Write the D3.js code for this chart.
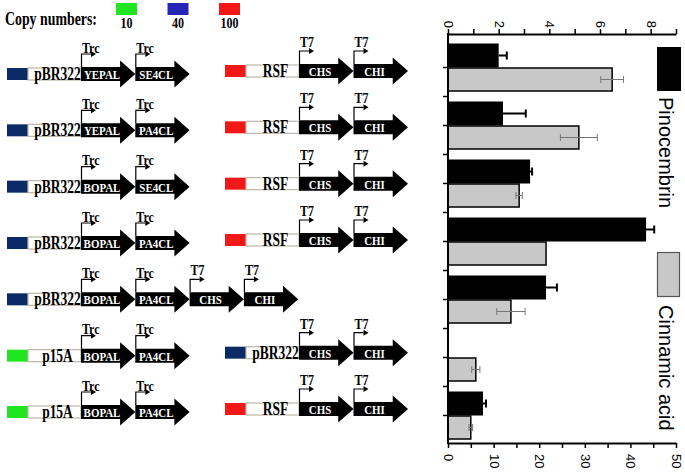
<!DOCTYPE html>
<html><head><meta charset="utf-8">
<script src="https://cdn.jsdelivr.net/npm/d3@7"></script>
<style>body{margin:0;background:#fff}svg{display:block}</style>
</head><body>
<svg id="c" width="685" height="472"></svg>
<script>
// ---------- DATA ----------
const constructs = ["c1","c2","c3","c4","c5","c6","c7"];
const leftOrigin  = ["pBR322","pBR322","pBR322","pBR322","pBR322","p15A","p15A"];
const leftGenes   = [["YEPAL","SE4CL"],["YEPAL","PA4CL"],["BOPAL","SE4CL"],["BOPAL","PA4CL"],["BOPAL","PA4CL","CHS","CHI"],["BOPAL","PA4CL"],["BOPAL","PA4CL"]];
const leftPromoters = [["Trc","Trc"],["Trc","Trc"],["Trc","Trc"],["Trc","Trc"],["Trc","Trc","T7","T7"],["Trc","Trc"],["Trc","Trc"]];
const rightOrigin = ["RSF","RSF","RSF","RSF",null,"pBR322","RSF"];
const rightGenes  = ["CHS","CHI"];
const rightPromoters = ["T7","T7"];
const copyOrigins = ["p15A","pBR322","RSF"];
const copyNumbers = ["10","40","100"];
const pinocembrin    = [2.0, 2.17, 3.24, 7.82, 3.87, 0, 1.38];
const pinocembrinErr = [0.32, 0.9, 0.08, 0.32, 0.43, 0, 0.12];
const cinnamic       = [36.0, 28.7, 15.6, 21.5, 13.8, 6.1, 5.0];
const cinnamicErr    = [2.5, 4.05, 0.7, 0, 3.1, 0.9, 0.4];
const topTicks = [0,1,2,3,4,5,6,7,8,9];
const bottomTicks = [0,5,10,15,20,25,30,35,40,45,50];
const seriesNames = ["Pinocembrin","Cinnamic acid"];

// ---------- STYLE ----------
const legendColor = {"p15A":"#22e522","pBR322":"#2626b6","RSF":"#f21818"};
const boxColor = {"p15A":"#22e522","pBR322":"#0b2b66","RSF":"#f21818"};
const serif = "'Liberation Serif','Times New Roman',serif";
const sans = "'Liberation Sans',Arial,sans-serif";
const svg = d3.select("#c");

// condensed serif text (horizontally scaled)
function ctext(g, x, y, str, size, ratio, anchor, fill){
  return g.append("text")
    .attr("transform",`translate(${x},${y}) scale(${ratio},1)`)
    .attr("text-anchor",anchor||"start")
    .attr("font-family",serif).attr("font-weight","bold").attr("font-size",size)
    .attr("fill",fill||"#000").text(str);
}

// ---------- COPY NUMBER LEGEND ----------
const gl = svg.append("g");
ctext(gl, 5, 25, "Copy numbers:", 18, 0.77);
const legX = d3.scalePoint().domain(copyOrigins).range([126.5,229.5]);
copyOrigins.forEach((o,i)=>{
  const cx = legX(o);
  gl.append("rect").attr("x",cx-10.5).attr("y",3).attr("width",21).attr("height",12).attr("fill",legendColor[o]);
  ctext(gl, cx, 28, copyNumbers[i], 15, 0.8, "middle");
});

// ---------- CONSTRUCT DIAGRAMS ----------
const rowY = d3.scaleLinear().domain([0,6]).range([74,412]);
const dg = svg.append("g");

function arrow(g, x, c, len, name, prom){
  const hb = len*0.72;
  g.append("path").attr("d",
    `M${x},${c-7}L${x+hb},${c-7}L${x+hb},${c-13.5}L${x+len},${c}L${x+hb},${c+13.5}L${x+hb},${c+7}L${x},${c+7}Z`)
    .attr("fill","#000");
  ctext(g, x+21, c+5, name, 13, 0.84, "middle", "#fff");
  // promoter
  g.append("path").attr("d",`M${x+0.5},${c-7}L${x+0.5},${c-20}L${x+10},${c-20}`)
    .attr("fill","none").attr("stroke","#000").attr("stroke-width",1.2);
  g.append("path").attr("d",`M${x+10},${c-23}L${x+15},${c-20}L${x+10},${c-17}Z`).attr("fill","#000");
  ctext(g, x+1, c-(prom==="T7"?24:21.5), prom, 15, 0.8, "start");
}

function plasmid(g, x0, c, origin, genes, proms, len){
  g.append("rect").attr("x",x0).attr("y",c-6).attr("width",21).attr("height",12).attr("fill",boxColor[origin]);
  g.append("rect").attr("x",x0+21).attr("y",c-6).attr("width",53).attr("height",12)
    .attr("fill","#fff").attr("stroke","#bdb6a6").attr("stroke-width",1.2);
  ctext(g, x0+21+26.5+3, c+6, origin, 18, 0.75, "middle");
  genes.forEach((gname,i)=> arrow(g, x0+74+i*len, c, len, gname, proms[i]));
}

constructs.forEach((id,i)=>{
  const c = rowY(i);
  plasmid(dg, 7, c, leftOrigin[i], leftGenes[i], leftPromoters[i], 54.3);
  if(rightOrigin[i]) plasmid(dg, 225, c-3, rightOrigin[i], rightGenes, rightPromoters, 54.5);
});

// ---------- BAR CHART ----------
const yBand = d3.scaleBand().domain(constructs).range([38.5,444.5]);
const xTop = d3.scaleLinear().domain([0,9]).range([448,676]);
const xBot = d3.scaleLinear().domain([0,50]).range([448,676]);
const barH = 24;
const bc = svg.append("g");
const center = d => yBand(d)+yBand.bandwidth()/2;

// bars
bc.selectAll(".pb").data(constructs).join("rect")
  .attr("x",xTop(0)).attr("y",d=>center(d)-barH)
  .attr("width",(d,i)=>xTop(pinocembrin[i])-xTop(0)).attr("height",barH).attr("fill","#000");
bc.selectAll(".cb").data(constructs).join("rect")
  .attr("x",xBot(0)).attr("y",d=>center(d)+0.5)
  .attr("width",(d,i)=>xBot(cinnamic[i])-xBot(0)).attr("height",barH-1)
  .attr("fill","#c8c8c8").attr("stroke","#000").attr("stroke-width",1.5);

// error bars
constructs.forEach((d,i)=>{
  if(pinocembrinErr[i]>0){
    const cy = center(d)-barH/2;
    const x1 = xTop(pinocembrin[i]), x2 = xTop(pinocembrin[i]+pinocembrinErr[i]);
    bc.append("line").attr("x1",x1).attr("x2",x2).attr("y1",cy).attr("y2",cy).attr("stroke","#000").attr("stroke-width",2);
    bc.append("line").attr("x1",x2).attr("x2",x2).attr("y1",cy-4).attr("y2",cy+4).attr("stroke","#000").attr("stroke-width",2);
  }
  if(cinnamicErr[i]>0){
    const cy = center(d)+barH/2;
    const x1 = xBot(cinnamic[i]-cinnamicErr[i]), x2 = xBot(cinnamic[i]+cinnamicErr[i]);
    bc.append("line").attr("x1",x1).attr("x2",x2).attr("y1",cy).attr("y2",cy).attr("stroke","#777").attr("stroke-width",1);
    [x1,x2].forEach(x=>bc.append("line").attr("x1",x).attr("x2",x).attr("y1",cy-3.5).attr("y2",cy+3.5).attr("stroke","#777").attr("stroke-width",1));
  }
});

// top axis
const ta = bc.append("g").attr("transform","translate(0,34)")
  .call(d3.axisTop(xTop).tickValues(topTicks).tickSize(5).tickSizeOuter(0).tickFormat(d=>d%2===0?d:""));
ta.select(".domain").attr("stroke-width",2);
ta.selectAll(".tick line").attr("stroke-width",1.5);
ta.selectAll("text").attr("font-family",sans).attr("font-size",13).attr("fill","#000")
  .attr("x",0).attr("y",0).attr("dy","0.35em").attr("text-anchor","end")
  .attr("transform","translate(0,-6) rotate(90)");

// bottom axis
const ba = bc.append("g").attr("transform","translate(0,443)")
  .call(d3.axisBottom(xBot).tickValues(bottomTicks).tickSize(5).tickSizeOuter(0).tickFormat(d=>d%10===0?d:""));
ba.select(".domain").attr("stroke-width",2);
ba.selectAll(".tick line").attr("stroke-width",1.5);
ba.selectAll("text").attr("font-family",sans).attr("font-size",13).attr("fill","#000")
  .attr("x",0).attr("y",0).attr("dy","0.35em").attr("text-anchor","start")
  .attr("transform","translate(0,11) rotate(90)");

// left axis
const la = bc.append("g").attr("transform","translate(448,0)")
  .call(d3.axisLeft(yBand).tickSize(5).tickSizeOuter(0).tickFormat(""));
la.select(".domain").remove();
la.selectAll(".tick line").attr("stroke-width",1.5);
bc.append("line").attr("x1",448).attr("x2",448).attr("y1",33).attr("y2",444).attr("stroke","#000").attr("stroke-width",2);
constructs.slice(1).forEach(d=>{
  bc.append("line").attr("x1",443).attr("x2",448).attr("y1",yBand(d)).attr("y2",yBand(d)).attr("stroke","#000").attr("stroke-width",1.5);
});

// series legend
const lg = svg.append("g");
lg.append("rect").attr("x",657).attr("y",47).attr("width",24).attr("height",44).attr("fill","#000");
lg.append("rect").attr("x",657.5).attr("y",252.5).attr("width",22).attr("height",44).attr("fill","#c8c8c8").attr("stroke","#555").attr("stroke-width",1.2);
lg.append("text").attr("transform","translate(659,97) rotate(90)").attr("font-family",sans).attr("font-size",20).text(seriesNames[0]);
lg.append("text").attr("transform","translate(659,305) rotate(90)").attr("font-family",sans).attr("font-size",20).text(seriesNames[1]);
</script>
</body></html>
